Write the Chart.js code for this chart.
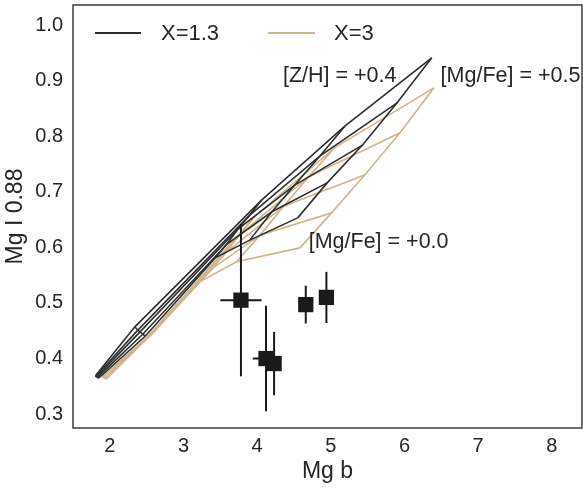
<!DOCTYPE html>
<html>
<head>
<meta charset="utf-8">
<script src="https://cdn.jsdelivr.net/npm/chart.js@4.4.0/dist/chart.umd.min.js"></script>
<style>
  html, body { margin: 0; padding: 0; background: #fff; }
</style>
</head>
<body>
<canvas id="chart" width="583" height="489"></canvas>
<script>
// model grids: one row per [Mg/Fe] step, one column per [Z/H] step (low -> +0.4)
const mgfeSteps = ['+0.0', '+0.1', '+0.2', '+0.3', '+0.5'];
const zhSteps = ['-1.3', '-0.7', '-0.4', '0.0', '+0.4'];

// X=1.3
const mgbX13 = [
    [1.85, 2.48, 3.43, 3.90, 4.55],
    [1.84, 2.45, 3.59, 4.20, 4.95],
    [1.82, 2.41, 3.74, 4.51, 5.43],
    [1.81, 2.38, 3.90, 4.85, 5.90],
    [1.81, 2.34, 4.06, 5.19, 6.37]
];
const mgiX13 = [
    [0.365, 0.440, 0.581, 0.613, 0.653],
    [0.367, 0.444, 0.606, 0.664, 0.716],
    [0.367, 0.448, 0.633, 0.712, 0.784],
    [0.368, 0.451, 0.658, 0.764, 0.860],
    [0.370, 0.457, 0.685, 0.818, 0.941]
];

// X=3
const mgbX3 = [
    [1.95, 2.62, 3.22, 3.72, 4.58],
    [1.93, 2.58, 3.40, 4.04, 5.01],
    [1.92, 2.54, 3.57, 4.36, 5.46],
    [1.90, 2.50, 3.76, 4.70, 5.94],
    [1.90, 2.46, 3.97, 5.05, 6.40]
];
const mgiX3 = [
    [0.363, 0.451, 0.538, 0.574, 0.599],
    [0.365, 0.446, 0.563, 0.622, 0.662],
    [0.365, 0.440, 0.590, 0.674, 0.730],
    [0.367, 0.437, 0.622, 0.727, 0.806],
    [0.368, 0.431, 0.656, 0.779, 0.887]
];

// measured points
const obsMgb = [3.78, 4.12, 4.23, 4.66, 4.94];
const obsMgbErr = [0.28, 0.18, 0.05, 0.05, 0.05];
const obsMgi = [0.505, 0.400, 0.391, 0.497, 0.510];
const obsMgiErr = [0.137, 0.095, 0.057, 0.034, 0.046];

const xTicks = [2, 3, 4, 5, 6, 7, 8];
const yTicks = [0.3, 0.4, 0.5, 0.6, 0.7, 0.8, 0.9, 1.0];

const notes = [
    { text: '[Z/H] = +0.4', x: 4.35, y: 0.908 },
    { text: '[Mg/Fe] = +0.5', x: 6.49, y: 0.908 },
    { text: '[Mg/Fe] = +0.0', x: 4.70, y: 0.610 }
];

const DARK = '#2e2e2e';
const TAN = '#d2b48c';
const INK = '#262626';
const FONT = '"Liberation Sans", Arial, sans-serif';

function lineSet(points, color, order) {
    return {
        data: points,
        showLine: true,
        borderColor: color,
        borderWidth: 1.6,
        pointRadius: 0,
        fill: false,
        order: order
    };
}

function gridSets(xs, ys, color, order) {
    const sets = [];
    // constant [Mg/Fe]
    xs.forEach((row, j) => {
        sets.push(lineSet(row.map((x, i) => ({ x: x, y: ys[j][i] })), color, order));
    });
    // constant [Z/H]
    zhSteps.forEach((z, i) => {
        sets.push(lineSet(xs.map((row, j) => ({ x: row[i], y: ys[j][i] })), color, order));
    });
    return sets;
}

const datasets = [];
datasets.push({
    data: obsMgb.map((x, i) => ({ x: x, y: obsMgi[i] })),
    pointStyle: 'rect',
    pointRadius: 10.8,
    backgroundColor: '#1a1a1a',
    borderWidth: 0,
    order: 0
});
obsMgb.forEach((x, i) => {
    const y = obsMgi[i];
    datasets.push(lineSet([{ x: x, y: y - obsMgiErr[i] }, { x: x, y: y + obsMgiErr[i] }], '#1a1a1a', 1));
    datasets.push(lineSet([{ x: x - obsMgbErr[i], y: y }, { x: x + obsMgbErr[i], y: y }], '#1a1a1a', 1));
});
datasets.forEach(d => { if (d.order === 1) d.borderWidth = 2; });
datasets.push(...gridSets(mgbX13, mgiX13, DARK, 2));
datasets.push(...gridSets(mgbX3, mgiX3, TAN, 3));

const extras = {
    id: 'extras',
    afterDatasetsDraw(chart) {
        const ctx = chart.ctx;
        const a = chart.chartArea;
        const xs = chart.scales.x;
        const ys = chart.scales.y;
        ctx.save();
        // frame
        ctx.strokeStyle = '#3d3d3d';
        ctx.lineWidth = 1.5;
        ctx.strokeRect(a.left, a.top, a.right - a.left, a.bottom - a.top);

        // legend
        ctx.lineWidth = 2;
        ctx.strokeStyle = DARK;
        ctx.beginPath(); ctx.moveTo(95, 33); ctx.lineTo(141, 33); ctx.stroke();
        ctx.strokeStyle = TAN;
        ctx.beginPath(); ctx.moveTo(268, 33); ctx.lineTo(315, 33); ctx.stroke();
        ctx.fillStyle = INK;
        ctx.textBaseline = 'middle';
        ctx.font = '22px ' + FONT;
        ctx.fillText('X=1.3', 161, 34);
        ctx.fillText('X=3', 334, 34);

        // labels on the grids
        ctx.font = '21.5px ' + FONT;
        notes.forEach(n => {
            ctx.fillText(n.text, xs.getPixelForValue(n.x), ys.getPixelForValue(n.y));
        });
        ctx.restore();
    }
};

new Chart(document.getElementById('chart'), {
    type: 'scatter',
    data: { datasets: datasets },
    plugins: [extras],
    options: {
        responsive: false,
        animation: false,
        layout: { autoPadding: false, padding: { top: 5, right: 1, left: 0, bottom: 0 } },
        plugins: { legend: { display: false }, tooltip: { enabled: false } },
        scales: {
            x: {
                min: 1.5,
                max: 8.41,
                afterBuildTicks: s => { s.ticks = xTicks.map(v => ({ value: v })); },
                afterFit: s => { s.height = 61; s.paddingLeft = 0; s.paddingRight = 0; },
                grid: { display: false, drawTicks: false },
                border: { display: false },
                ticks: { color: INK, font: { family: FONT, size: 20 }, padding: 6, maxRotation: 0 },
                title: {
                    display: true, text: 'Mg b', color: INK,
                    font: { family: FONT, size: 23 }, padding: { top: 0, bottom: 4 }
                }
            },
            y: {
                min: 0.275,
                max: 1.036,
                afterBuildTicks: s => { s.ticks = yTicks.map(v => ({ value: v })); },
                afterFit: s => { s.width = 73; s.paddingTop = 0; s.paddingBottom = 0; },
                grid: { display: false, drawTicks: false },
                border: { display: false },
                ticks: {
                    color: INK, font: { family: FONT, size: 20 }, padding: 10,
                    callback: v => v.toFixed(1)
                },
                title: {
                    display: true, text: 'Mg I 0.88', color: INK,
                    font: { family: FONT, size: 23 }, padding: { top: 2, bottom: 0 }
                }
            }
        }
    }
});
</script>
</body>
</html>
